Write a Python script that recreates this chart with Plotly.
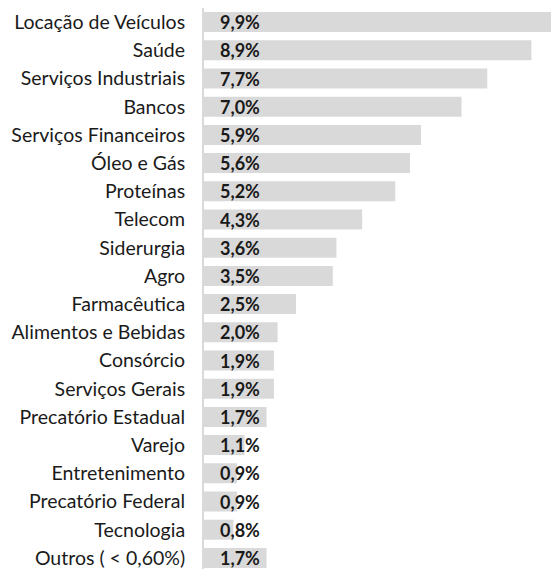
import plotly.graph_objects as go

setores = [
    "Locação de Veículos", "Saúde", "Serviços Industriais", "Bancos",
    "Serviços Financeiros", "Óleo e Gás", "Proteínas", "Telecom",
    "Siderurgia", "Agro", "Farmacêutica", "Alimentos e Bebidas",
    "Consórcio", "Serviços Gerais", "Precatório Estadual", "Varejo",
    "Entretenimento", "Precatório Federal", "Tecnologia", "Outros ( < 0,60%)",
]
pesos = [9.9, 8.9, 7.7, 7.0, 5.9, 5.6, 5.2, 4.3, 3.6, 3.5,
         2.5, 2.0, 1.9, 1.9, 1.7, 1.1, 0.9, 0.9, 0.8, 1.7]
rotulos = [f"{v:.1f}%".replace(".", ",") for v in pesos]

fonte = "Lato, Open Sans, sans-serif"

fig = go.Figure(
    go.Bar(
        x=pesos,
        y=setores,
        orientation="h",
        marker=dict(color="#d9d9d9", line=dict(width=0)),
        hoverinfo="skip",
    )
)

for s, r in zip(setores, rotulos):
    fig.add_annotation(
        x=0, y=s, text=f"<b>{r}</b>", showarrow=False,
        xanchor="left", xshift=14,
        font=dict(family=fonte, size=18, color="#1a1a1a"),
    )

# page body adds 8px on left/top, so the figure is sized to fit the window
fig.update_layout(
    width=551, height=564,
    margin=dict(l=196, r=0, t=0, b=0),
    plot_bgcolor="white", paper_bgcolor="white",
    bargap=0.29,
    showlegend=False,
    font=dict(family=fonte, size=19.5, color="#1a1a1a"),
    xaxis=dict(range=[0, 9.65], visible=False, fixedrange=True),
    yaxis=dict(
        autorange="reversed", showline=True, linecolor="#d9d9d9", linewidth=2,
        showgrid=False, ticks="", ticklabelstandoff=13, fixedrange=True,
        automargin=False,
    ),
)

fig.write_html("out.html")
